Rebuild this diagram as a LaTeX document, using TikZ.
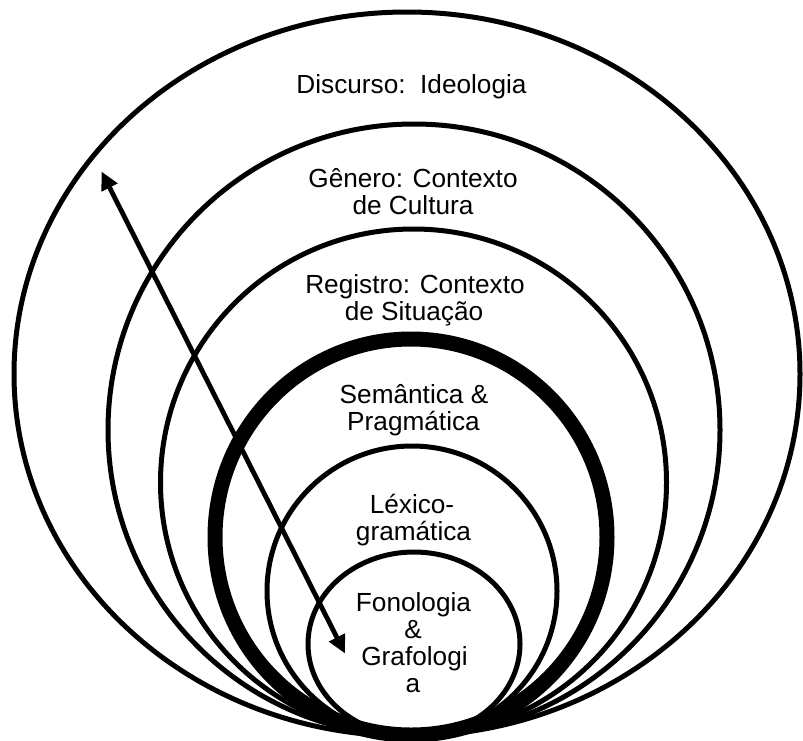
\documentclass[tikz,border=0pt]{standalone}
\usepackage{fontspec}
\setmainfont{Liberation Sans}
\usetikzlibrary{arrows.meta}
\begin{document}
\begin{tikzpicture}[x=1pt,y=-1pt,
  ring/.style={draw=black,line width=5pt},
  heavyring/.style={draw=black,line width=15pt},
  lbl/.style={anchor=base,inner sep=0pt,font=\fontsize{26.2}{27}\selectfont},
  twoway/.style={line width=4.8pt,{Triangle[length=18pt,width=17pt]}-{Triangle[length=18pt,width=17pt]}}]
\useasboundingbox (0,0) rectangle (803,740);

% nested strata, all touching at the bottom
\draw[ring] (407,374) ellipse [x radius=393,y radius=362];
\draw[ring] (414,430) ellipse [x radius=306,y radius=306];
\draw[ring] (413.5,482.5) ellipse [x radius=253,y radius=253.5];
\draw[heavyring] (411,537) ellipse [x radius=196,y radius=198];
\draw[ring] (412,591) ellipse [x radius=145,y radius=145];
\draw[ring] (414,644) ellipse [x radius=106,y radius=92];

% labels
\node[lbl] (disc)  at (411.5,93.3) {Discurso:\ \ Ideologia};
\node[lbl] (gen1)  at (413,187.5) {Gênero: Contexto};
\node[lbl] (gen2)  at (413,214.5) {de Cultura};
\node[lbl] (reg1)  at (415,293) {Registro: Contexto};
\node[lbl] (reg2)  at (414,320) {de Situação};
\node[lbl] (sem1)  at (414,403.5) {Semântica \&};
\node[lbl] (sem2)  at (413.5,430.5) {Pragmática};
\node[lbl] (lex1)  at (412,513) {Léxico-};
\node[lbl] (lex2)  at (413.5,540) {gramática};
\node[lbl] (fon1)  at (413.5,611.7) {Fonologia};
\node[lbl] (fon2)  at (413,638.7) {\&};
\node[lbl] (fon3)  at (414.5,665.7) {Grafologi};
\node[lbl] (fon4)  at (413,692.7) {a};

% double-headed arrow across the strata
\coordinate (upper) at (101.5,171.5);
\coordinate (lower) at (345,653.5);
\draw[twoway] (upper) -- (lower);
\end{tikzpicture}
\end{document}
